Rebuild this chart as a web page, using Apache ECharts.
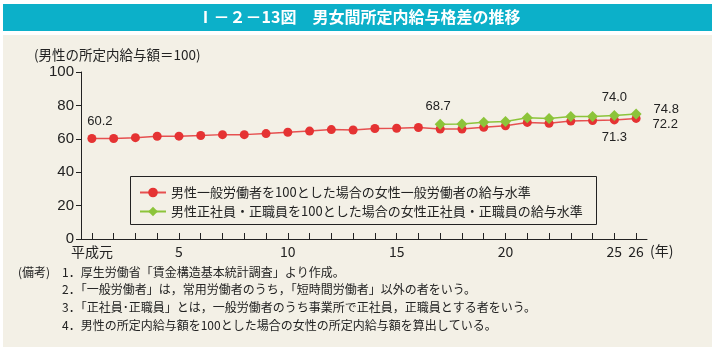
<!DOCTYPE html>
<html>
<head>
<meta charset="utf-8">
<script src="https://cdn.jsdelivr.net/npm/echarts@6/dist/echarts.min.js"></script>
<style>
  html, body { margin: 0; padding: 0; background: #fff; }
  #chart { width: 718px; height: 352px; }
</style>
</head>
<body>
<div id="chart"></div>
<script>
// 平成元年〜26年
var years = ['平成元','2','3','4','5','6','7','8','9','10','11','12','13',
             '14','15','16','17','18','19','20','21','22','23','24','25','26'];
var shownYears = ['平成元','5','10','15','20','25','26'];

// 男性一般労働者を100とした場合の女性一般労働者の給与水準
var ippan = [60.2, 60.2, 60.7, 61.5, 61.6, 62.0, 62.5, 62.5, 63.1, 63.9, 64.6, 65.5, 65.3,
             66.2, 66.3, 66.8, 65.9, 65.9, 66.9, 67.8, 69.8, 69.3, 70.6, 70.9, 71.3, 72.2];
// 男性正社員・正職員を100とした場合の女性正社員・正職員の給与水準
var seishain = [null, null, null, null, null, null, null, null, null, null, null, null, null,
                null, null, null, 68.7, 68.9, 69.9, 70.3, 72.6, 72.1, 73.3, 73.4, 74.0, 74.8];

var name1 = '男性一般労働者を100とした場合の女性一般労働者の給与水準';
var name2 = '男性正社員・正職員を100とした場合の女性正社員・正職員の給与水準';

var notes = [
  '1．厚生労働省「賃金構造基本統計調査」より作成。',
  '2．「一般労働者」は，常用労働者のうち，「短時間労働者」以外の者をいう。',
  '3．「正社員･正職員」とは，一般労働者のうち事業所で正社員，正職員とする者をいう。',
  '4．男性の所定内給与額を100とした場合の女性の所定内給与額を算出している。'
];

var jp = '"Noto Sans CJK JP", "Noto Sans", sans-serif';
var num = '"Liberation Sans", Arial, "Noto Sans CJK JP", sans-serif';
var last = years.length - 1;

function lbl(pos, offset) {
  return { show: true, position: pos, distance: 6, offset: offset || [0, 0],
           formatter: function (p) { return p.value.toFixed(1); },
           color: '#222', fontSize: 13, fontFamily: num };
}

var redData = ippan.map(function (v, i) {
  if (i === 0) return { value: v, label: lbl('top', [8, 0]) };
  if (i === last - 1) return { value: v, label: lbl('bottom', [0, 0]) };
  if (i === last) return { value: v, label: lbl('right', [6, 6]) };
  return v;
});
var greenData = seishain.map(function (v, i) {
  if (v === null) return null;
  if (i === 16) return { value: v, label: lbl('top', [-2, 0]) };
  if (i === last - 1) return { value: v, label: lbl('top', [0, 0]) };
  if (i === last) return { value: v, label: lbl('right', [6, -5]) };
  return v;
});

var graphics = [
  { type: 'rect', shape: { x: 3, y: 4, width: 709, height: 27 }, style: { fill: '#0cb0c9' }, z: 0 },
  { type: 'rect', shape: { x: 3, y: 35, width: 709, height: 312 }, style: { fill: '#f3f0e6' }, z: 0 },
  { type: 'text', left: 'center', top: 9, z: 5,
    style: { text: 'Ⅰ－２－13図　男女間所定内給与格差の推移', fill: '#fff', fontSize: 16,
             fontWeight: 'bold', fontFamily: jp } },
  { type: 'text', left: 34, top: 48, z: 5,
    style: { text: '(男性の所定内給与額＝100)', fill: '#222', fontSize: 13.5, fontFamily: jp } },
  { type: 'text', left: 650, top: 244, z: 5,
    style: { text: '(年)', fill: '#222', fontSize: 14, fontFamily: jp } },
  { type: 'rect', shape: { x: 130.5, y: 176.5, width: 466, height: 48 }, z: 3,
    style: { fill: '#f3f0e6', stroke: '#222', lineWidth: 1 } },
  { type: 'text', left: 18, top: 266, z: 5,
    style: { text: '(備考)', fill: '#222', fontSize: 12, fontFamily: jp } }
];
notes.forEach(function (t, i) {
  graphics.push({ type: 'text', left: 62, top: 266 + i * 17.7, z: 5,
    style: { text: t, fill: '#222', fontSize: 12, fontFamily: jp } });
});

var chart = echarts.init(document.getElementById('chart'), null, { renderer: 'canvas' });
chart.setOption({
  animation: false,
  backgroundColor: '#fff',
  graphic: graphics,
  grid: { left: 81, top: 72, width: 566, height: 167, show: true,
          borderColor: '#222', borderWidth: 1, backgroundColor: 'transparent' },
  legend: {
    orient: 'vertical', left: 139, top: 186, itemGap: 6, itemWidth: 26, itemHeight: 12,
    padding: 0, z: 6,
    textStyle: { color: '#222', fontSize: 13, fontFamily: jp },
    data: [name1, name2]
  },
  xAxis: {
    type: 'category', data: years, boundaryGap: true,
    axisLine: { lineStyle: { color: '#222', width: 1 } },
    axisTick: { show: true, alignWithLabel: true, inside: true, length: 6, interval: 0,
                lineStyle: { color: '#222' } },
    axisLabel: { interval: 0, margin: 6, color: '#222', fontSize: 14, fontFamily: jp,
                 formatter: function (v) { return shownYears.indexOf(v) >= 0 ? v : ''; } },
    splitLine: { show: false }
  },
  yAxis: {
    type: 'value', min: 0, max: 100, interval: 20,
    axisLine: { show: true, lineStyle: { color: '#222', width: 1 } },
    axisTick: { show: true, length: 5, lineStyle: { color: '#222' } },
    axisLabel: { margin: 7, color: '#222', fontSize: 15, fontFamily: num },
    splitLine: { show: false }
  },
  series: [
    { name: name1, type: 'line', data: redData, symbol: 'circle', symbolSize: 9,
      itemStyle: { color: '#e53333' }, lineStyle: { color: '#e65050', width: 1.5 }, z: 4 },
    { name: name2, type: 'line', data: greenData, symbol: 'diamond', symbolSize: 11,
      itemStyle: { color: '#8cc43a' }, lineStyle: { color: '#8cc43a', width: 1.5 }, z: 5 }
  ]
});
</script>
</body>
</html>
